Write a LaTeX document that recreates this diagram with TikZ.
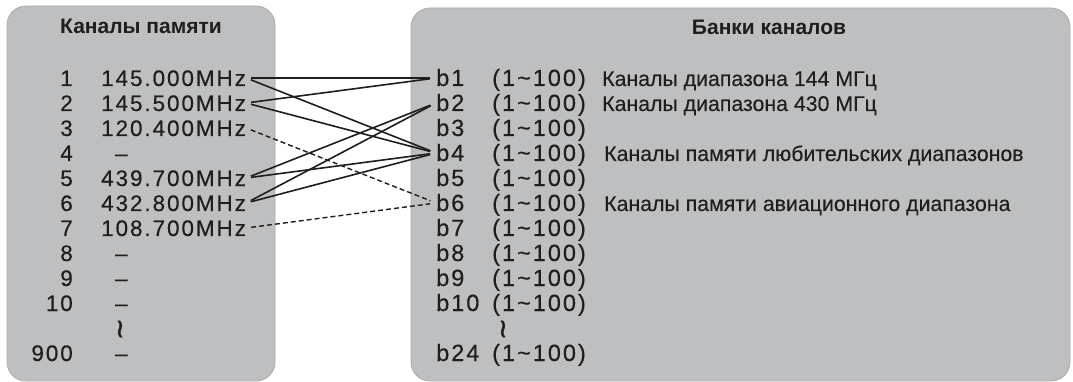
\documentclass[tikz,border=0pt]{standalone}
\usepackage{fontspec}
\setmainfont{Liberation Sans}
\newfontfamily\lsfont[LetterSpace=8.5, FakeBold=0.3]{Liberation Sans}
\newfontfamily\descfont[FakeBold=0.2]{Liberation Sans}
\newfontfamily\squigfont[FakeBold=1.5]{DejaVu Sans}
\definecolor{boxgray}{HTML}{BEBFC1}
\definecolor{boxedge}{HTML}{ABACAE}
\definecolor{ink}{HTML}{1E1E1E}
\begin{document}
\begin{tikzpicture}[x=1pt,y=-1pt,
  panel/.style={fill=boxgray, draw=boxedge, line width=0.8pt, rounded corners=19pt},
  txt/.style={inner sep=0pt, text height=16pt, text depth=0pt, text=ink},
  lnum/.style={txt, anchor=east, font=\lsfont\fontsize{22.5}{24}\selectfont},
  lfreq/.style={txt, anchor=west, font=\lsfont\fontsize{22.5}{24}\selectfont},
  rbank/.style={txt, anchor=west, font=\lsfont\fontsize{23.5}{25}\selectfont},
  rdesc/.style={txt, anchor=west, font=\descfont\fontsize{21.3}{23}\selectfont},
  ttl/.style={inner sep=0pt, text=ink, font=\bfseries\fontsize{21}{23}\selectfont},
  squig/.style={inner sep=0pt, text=ink, font=\squigfont\fontsize{26}{27}\selectfont},
  conn/.style={draw=ink, line width=1.6pt, shorten <=5pt, shorten >=6pt},
  dconn/.style={conn, line width=1.4pt, dash pattern=on 5pt off 3pt}
]
\useasboundingbox (0,0) rectangle (1073,382);
\fill[white] (0,0) rectangle (1073,382);
\path[panel] (7,6) rectangle (275,381);
\path[panel] (411,8) rectangle (1070,381);

\node[ttl] (tl) at (141,26) {Каналы памяти};
\node[ttl] (tr) at (769,27) {Банки каналов};

% left column
\node[lnum] (n1) at (73,78) {1};
\node[lnum] (n2) at (73,103) {2};
\node[lnum] (n3) at (73,128) {3};
\node[lnum] (n4) at (73,153) {4};
\node[lnum] (n5) at (73,178) {5};
\node[lnum] (n6) at (73,203) {6};
\node[lnum] (n7) at (73,228) {7};
\node[lnum] (n8) at (73,253) {8};
\node[lnum] (n9) at (73,278) {9};
\node[lnum] (n10) at (73,303) {10};
\node[lnum] (n900) at (73,353) {900};

\node[lfreq] (f1) at (101,78) {145.000MHz};
\node[lfreq] (f2) at (101,103) {145.500MHz};
\node[lfreq] (f3) at (101,128) {120.400MHz};
\node[lfreq] (f4) at (115,153) {–};
\node[lfreq] (f5) at (101,178) {439.700MHz};
\node[lfreq] (f6) at (101,203) {432.800MHz};
\node[lfreq] (f7) at (101,228) {108.700MHz};
\node[lfreq] (f8) at (115,253) {–};
\node[lfreq] (f9) at (115,278) {–};
\node[lfreq] (f10) at (115,303) {–};
\node[squig] (sl) at (120,329) {≀};
\node[lfreq] (f900) at (115,353) {–};

% right column
\foreach \i/\yy in {1/78,2/103,3/128,4/153,5/178,6/203,7/228,8/253,9/278,10/303}{
  \node[rbank] (b\i) at (436,\yy) {b\i};
  \node[rbank] (r\i) at (492,\yy) {(1\char"007E 100)};
}
\node[squig] (sr) at (503,329) {≀};
\node[rbank] (b24) at (436,353) {b24};
\node[rbank] (r24) at (492,353) {(1\char"007E 100)};

\node[rdesc] (d1) at (602,78) {Каналы диапазона 144 МГц};
\node[rdesc] (d2) at (602,103) {Каналы диапазона 430 МГц};
\node[rdesc] (d4) at (604,153) {Каналы памяти любительских диапазонов};
\node[rdesc] (d6) at (604,203) {Каналы памяти авиационного диапазона};

% connectors
\draw[conn] (f1.east) -- (b1.west);
\draw[conn] (f1.east) -- (b4.west);
\draw[conn] (f2.east) -- (b1.west);
\draw[conn] (f2.east) -- (b4.west);
\draw[conn] (f5.east) -- (b2.west);
\draw[conn] (f5.east) -- (b4.west);
\draw[conn] (f6.east) -- (b2.west);
\draw[conn] (f6.east) -- (b4.west);
\draw[dconn] (f3.east) -- (b6.west);
\draw[dconn] (f7.east) -- (b6.west);
\end{tikzpicture}
\end{document}
